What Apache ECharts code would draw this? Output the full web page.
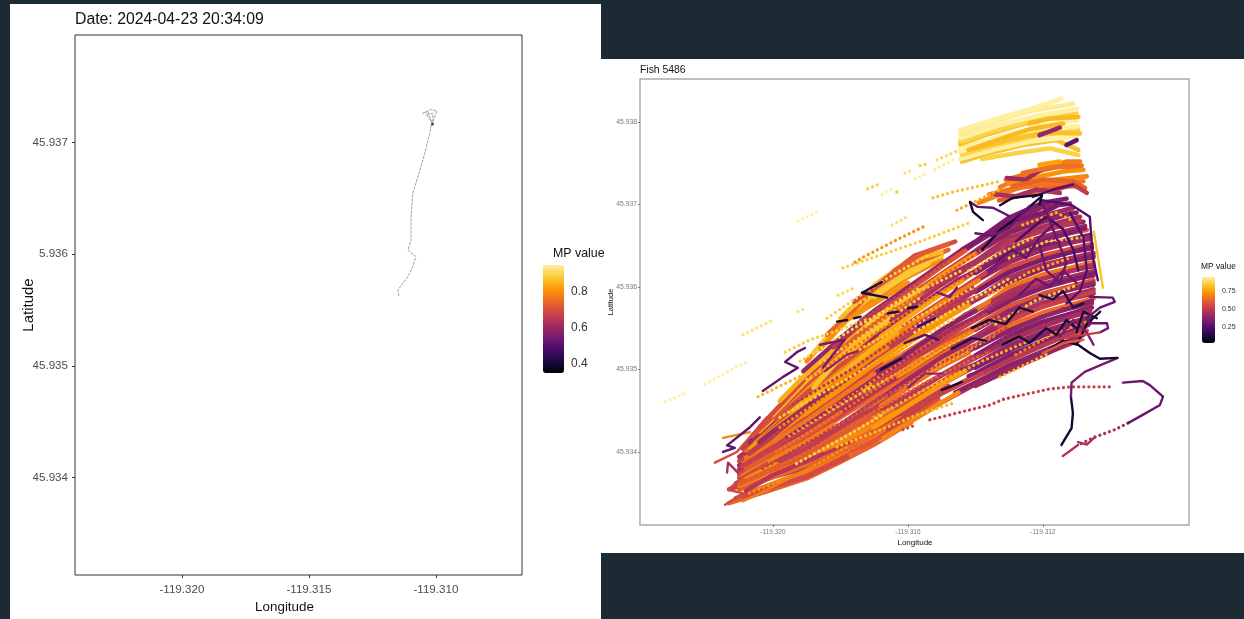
<!DOCTYPE html>
<html><head><meta charset="utf-8">
<style>html,body{margin:0;padding:0;background:#1b2a33}#c{width:1244px;height:619px}</style>
<script src="https://cdn.jsdelivr.net/npm/echarts@6/dist/echarts.min.js"></script>
</head><body><div id="c"></div>
<script>
// Units: x = thousandths of a degree east of -119.320, y = thousandths of a degree north of 45.934
const LON0 = -119.32, LAT0 = 45.934;
const inferno = ['#000004','#1b0c41','#4a0c6b','#781c6d','#a52c60','#cf4446','#ed6925','#fb9b06','#f9cb35','#fff0a0'];

const leftTitle = 'Date: 2024-04-23 20:34:09';
const rightTitle = 'Fish 5486';
const leftLonTicks = [-119.32, -119.315, -119.31];
const leftLonLabels = ['-119.320', '-119.315', '-119.310'];
const leftLatTicks = [45.934, 45.935, 45.936, 45.937];
const leftLatLabels = ['45.934', '45.935', '5.936', '45.937'];
const rightLonTicks = [-119.32, -119.316, -119.312];
const rightLonLabels = ['-119.320', '-119.316', '-119.312'];
const rightLatTicks = [45.934, 45.935, 45.936, 45.937, 45.938];
const rightLatLabels = ['45.934', '45.935', '45.936', '45.937', '45.938'];
const leftLegendTicks = [0.4, 0.6, 0.8];
const leftLegendLabels = ['0.4', '0.6', '0.8'];
const rightLegendTicks = [0.25, 0.5, 0.75];
const rightLegendLabels = ['0.25', '0.50', '0.75'];

const leftTrace = [9.83,3.181, 9.68,3.277, 9.48,3.259, 9.83,3.295, 10.03,3.279, 9.88,3.179, 9.88,3.259, 9.61,3.25, 9.83,3.181, 9.76,3.08, 9.57,2.91, 9.37,2.75, 9.09,2.545, 9.02,2.33, 9.02,2.125, 8.90,2.036, 9.21,1.98, 9.09,1.884, 8.86,1.786, 8.50,1.679, 8.54,1.616];
const leftHead = [9.86, 3.165, 0.37];

// [value, x,y, x,y, ...]
const cloudRight = [
[.46,4,.35,5,.60,6,.82,7,.99,8,1.18,9.1,1.36],
[.38,5.4,.72,6,.84,7,1.05,8,1.22,9.2,1.42],
[.60,4.6,.62,5,.71,6,.93,7,1.11,8,1.32,9.3,1.47],
[.36,5.8,.92,6,.95,7,1.17,8,1.34,9.35,1.54],
[.45,4.2,.62,5,.82,6,1.04,7,1.23,8,1.44,9.4,1.59],
[.40,5.5,.98,6,1.06,7,1.29,8,1.46,9.4,1.64],
[.55,4.8,.88,5,.93,6,1.15,7,1.35,8,1.55,9.4,1.70],
[.36,6,1.17,7,1.41,8,1.58,9.45,1.75],
[.42,4.4,.92,5,1.04,6,1.27,7,1.47,8,1.67,9.45,1.80],
[.64,5.6,1.24,6,1.29,7,1.53,8,1.69,9.5,1.86],
[.38,4.6,1.05,5,1.15,6,1.38,7,1.59,8,1.78,9.5,1.92],
[.45,5.2,1.25,6,1.40,7,1.65,8,1.81,9.5,1.97],
[.34,6.2,1.55,7,1.71,8,1.90,9.5,2.03],
[.58,4.3,1.16,5,1.32,6,1.52,7,1.77,8,1.92,9.5,2.08],
[.40,5.3,1.44,6,1.61,7,1.83,8,2.02,9.5,2.14],
[.44,4.7,1.36,5,1.43,6,1.63,7,1.89,8,2.04,9.5,2.19],
[.36,5.7,1.66,6,1.73,7,1.94,8,2.13,9.5,2.25],
[.66,6.4,1.82,7,2.00,8,2.15,9.5,2.30],
[.38,4.5,1.46,5,1.59,6,1.84,7,2.06,8,2.25,9.5,2.36],
[.45,5.3,1.71,6,1.85,7,2.12,8,2.27,9.5,2.41],
[.36,6,1.96,7,2.18,8,2.36,9.45,2.47],
[.56,4.4,1.62,5,1.76,6,1.96,7,2.24,8,2.38,9.45,2.52],
[.40,5.6,1.97,6,2.07,7,2.30,8,2.48,9.4,2.58],
[.34,6.3,2.17,7,2.36,8,2.50,9.4,2.63],
[.60,4.8,1.87,5,1.92,6,2.19,7,2.42,8,2.59,9.3,2.69],
[.42,5.5,2.09,6,2.19,7,2.48,8,2.61,9.25,2.74],
[.38,5,2.03,6,2.30,7,2.54,8,2.70,9.2,2.79],
[.45,4.4,1.93,5,2.09,6,2.31,7,2.60,8,2.73,9.1,2.85],
[.36,5.2,2.2,6,2.42,7,2.66,8,2.83,9.0,2.90],
[.42,5.8,2.38,7,2.72,8,2.86,8.9,2.96],
[.38,5,2.25,6,2.53,7,2.78,8,2.97,8.8,3.01],
[.34,5.6,2.45,6,2.55,7,2.84,8,3.02,8.7,3.07]
];
const rightFill = [
[.40,6,.80,7,.99,8,1.17,9,1.38],
[.48,6.2,.95,7,1.11,8,1.29,9.2,1.5],
[.36,6,1.02,7,1.23,8,1.41,9.4,1.61],
[.44,6.4,1.22,7,1.35,8,1.52,9.4,1.72],
[.38,6,1.26,7,1.47,8,1.64,9.45,1.83],
[.52,6.6,1.5,7,1.59,8,1.76,9.5,1.94],
[.40,6,1.48,7,1.71,8,1.87,9.5,2.05],
[.36,6.3,1.67,7,1.83,8,1.99,9.5,2.16],
[.46,6,1.71,7,1.94,8,2.10,9.5,2.27],
[.38,6.5,1.95,7,2.06,8,2.22,9.5,2.38],
[.34,6,1.94,7,2.18,8,2.33,9.45,2.49],
[.42,6.7,2.23,7,2.30,8,2.45,9.4,2.6],
[.36,6,2.17,7,2.42,8,2.56,9.25,2.71],
[.48,6.4,2.39,7,2.54,8,2.68,9.1,2.8],
[.38,6,2.40,7,2.66,8,2.79,8.9,2.9],
[.34,6.5,2.65,7,2.78,8,2.9,8.4,2.98]
];
const cloudLeft = [
[.62,-1.3,-.62,-.2,-.48,1,-.32,2,-.12,3,.09,4.1,.36],
[.58,-1.1,-.56,1,-.28,2,-.05,3,.14,4.9,.64],
[.68,-.9,-.52,1,-.23,2,-.02,3,.20,3.9,.44],
[.52,-1.3,-.45,-.3,-.34,1,-.19,2,.04,3,.25,5.2,.8],
[.64,-1,-.46,1,-.15,2,.06,3,.30,4.3,.64],
[.58,-1,-.43,1,-.11,2,.13,3,.35,5.5,.98],
[.70,-1,-.41,1,-.06,2,.15,3,.41,4.7,.86],
[.50,-1.1,-.38,1,-.02,2,.22,3,.46,5.9,1.15],
[.60,-1,-.36,1,.02,2,.25,3,.51,4.5,.92],
[.72,-.8,-.30,1,.06,2,.31,3,.56,5.6,1.24],
[.48,-1,-.31,1,.11,2,.33,3,.61,4.7,1.06],
[.64,-1,-.28,1,.15,2,.42,3,.67,5.2,1.25],
[.54,-1,-.26,1,.19,2,.44,3,.72,6.2,1.55],
[.70,-.6,-.14,1,.23,2,.51,3,.77,4.4,1.16],
[.46,-1,-.21,1,.27,2,.53,3,.82,5.3,1.44],
[.62,-.9,-.16,1,.32,2,.60,3,.88,4.7,1.36],
[.44,-1,-.16,1,.36,2,.62,3,.93,5.7,1.66],
[.66,-.9,-.11,1,.40,2,.70,3,.98,6.4,1.82],
[.54,-1,-.11,1,.44,2,.72,3,1.03,4.5,1.46],
[.72,-.5,.02,1,.49,2,.80,3,1.08,5.3,1.71],
[.46,-1,-.06,1,.53,2,.82,3,1.14,6,1.96],
[.64,-.8,.02,1,.57,2,.90,3,1.19,4.4,1.62],
[.74,-.7,.06,1,.61,2,.92,3,1.24,5.6,1.97],
[.52,-.9,.04,1,.66,2,1.00,3,1.29,6.3,2.17],
[.70,-.6,.14,1,.70,2,1.02,3,1.35,4.8,1.87],
[.42,-.7,.12,1,.74,2,1.09,3,1.40,5.5,2.09],
[.76,-.4,.25,1,.78,2,1.11,3,1.45,5,2.03],
[.58,-.6,.20,1,.82,2,1.19,3,1.50,4.4,1.93],
[.80,0,.45,1,.87,2,1.20,3,1.55,5.2,2.2],
[.55,-.4,.30,1,.91,2,1.28,3,1.61,5.8,2.38],
[.78,.2,.62,1,.95,2,1.30,3,1.66,5,2.25],
[.40,.9,.98,2,1.38,3,1.71,5.6,2.45]
];
const topFill = [
[.70,1,1.1,2,1.55,3,1.85,4,2.12,5,2.33],
[.82,1.2,1.2,2,1.58,3,1.92,4,2.2,5,2.38],
[.62,1.6,1.42,2.4,1.72,3,1.98,4,2.25,5.2,2.45],
[.80,2,1.62,3,2.02,4,2.32,5,2.42],
[.55,2.4,1.82,3.2,2.05,4.2,2.38,5.4,2.55],
[.72,1.4,1.25,2.2,1.6,3,1.8,4,2.05],
[.84,3,1.88,3.8,2.1,4.6,2.28],
[.60,3.6,2.2,4.4,2.4,5.2,2.52]
];
const leftFill = [
[.55,-.9,-.54,0,-.42,1,-.30,2.2,-.06],
[.64,1.2,-.17,2,0,3,.22,3.8,.41],
[.48,-.8,-.47,0,-.28,1.4,-.04,2.3,.13],
[.70,1.5,.03,2,.11,3,.33,3.6,.48],
[.60,-1,-.39,0,-.21,1,-.04,2,.21,3.2,.48],
[.50,.2,-.11,1,.04,2,.3,3,.53,4.2,.85],
[.68,-.9,-.29,0,-.08,1,.13,1.8,.33],
[.45,1.8,.43,3,.74,4,.99],
[.60,-.8,-.2,0,-.02,1,.21,2,.48],
[.76,1.6,.5,2,.58,3,.85,4.2,1.15],
[.52,-.9,-.17,0,.05,1,.3,2.6,.72],
[.36,2.7,.87,3.2,1,3.9,1.16],
[.66,-.8,-.07,0,.12,1,.38,2,.67,3,.95],
[.72,.4,.33,1,.47,2,.76,3,1.06,3.7,1.24],
[.50,-.7,-.02,0,.19,1.2,.6,1.9,.83],
[.70,1.5,.75,2,.86,3,1.16,4.1,1.46],
[.42,-.4,.12,0,.25,1,.55,1.6,.74],
[.78,.5,.5,1,.63,2,.95,3,1.27,3.8,1.5],
[.56,.1,.4,1,.72,2,1.05,2.7,1.27],
[.82,1.2,.78,2,1.14,3,1.47,3.6,1.65],
[.62,1.5,1.06,2,1.23,3,1.58,3.5,1.73],
[.48,1.8,1.27,3,1.68,3.4,1.8]
];
const cloudMid = [
[.70,3.2,.15,4,.35,5,.60,5.5,.72],
[.52,3.4,.28,4,.45,5,.71,6.2,.95],
[.74,3,.30,4,.56,5,.82,5.7,.98],
[.48,3.6,.57,4,.67,5,.93,6.4,1.22],
[.66,3.2,.56,4,.78,5,1.04,5.8,1.2],
[.42,3.4,.70,4,.88,5,1.15,6.6,1.5],
[.72,3.7,.92,4,.99,5,1.26,5.9,1.46],
[.52,3,.82,4,1.10,5,1.37,6.3,1.67],
[.38,3.9,1.17,5,1.48,6,1.71],
[.74,3.3,1.11,4,1.31,5,1.59,5.8,1.78],
[.50,3.5,1.28,4,1.42,5,1.70,6.5,1.95],
[.68,3.8,1.46,5,1.81,6.1,2.08],
[.76,3.2,1.40,4,1.63,5,1.92,5.6,2.07],
[.46,3.5,1.6,4,1.74,5,2.03,6.7,2.47],
[.74,3.7,1.76,5,2.14,6,2.40],
[.58,3.4,1.75,4,1.95,5,2.25,5.7,2.44]
];
const upperBand = [
[.60,6.7,3.05,7.5,3.12,8.3,3.22,9.1,3.22],
[.70,6.1,3.02,7,3.16,7.9,3.28,9.3,3.34],
[.66,6.4,3.12,7.2,3.2,8.1,3.24,9.2,3.28],
[.45,6.6,3.12,7.2,3.10,7.8,3.18,8.5,3.14],
[.68,6.73,3.21,7.32,3.32,8.71,3.52,9.1,3.52],
[.72,7,3.25,7.8,3.33,8.6,3.4,9.2,3.42],
[.66,6.9,3.3,7.8,3.4,8.6,3.47,9.15,3.47],
[.42,6.93,3.32,7.5,3.3,7.93,3.42],
[.62,7.1,3.22,8,3.3,8.9,3.28,9.25,3.2],
[.65,7.4,3.38,8.2,3.45,9,3.46],
[.75,7.9,3.48,8.5,3.52],
[.50,8.2,3.16,8.9,3.24,9.3,3.14]
];
const yellowBlock = [
[.82,5.6,3.52,6.4,3.62,7.4,3.72,8.4,3.78,9.05,3.66],
[.86,6.2,3.55,7.2,3.62,8.2,3.68,9.05,3.6],
[.95,5.55,3.55,6.5,3.66,7.6,3.76,9.0,3.83],
[.87,5.6,3.60,6.6,3.72,7.8,3.83,9.05,3.90],
[.95,5.55,3.64,6.7,3.78,7.9,3.90,9.05,3.95],
[.82,6,3.68,7,3.78,8,3.87,9.1,3.86],
[.95,5.55,3.68,6.8,3.83,8,3.96,9.0,4.02],
[.80,5.8,3.66,6.8,3.80,7.6,3.91,8.6,3.98],
[.82,5.55,3.73,6.3,3.84,7.2,3.95,8.2,4.05],
[.86,5.55,3.76,6.6,3.90,7.5,4.0,9.0,4.10],
[.95,5.55,3.80,6.7,3.96,7.8,4.07,9.0,4.16],
[.93,5.55,3.85,6.73,4.02,7.6,4.13,8.9,4.22],
[.95,5.55,3.90,6.73,4.05,7.6,4.15,8.55,4.28],
[.80,7.6,3.98,8.2,4.04,9.05,4.06],
[.40,7.9,3.84,8.5,3.93],
[.28,8.7,3.72,9.0,3.78]
];
const squiggles = [
[.70,-1.48,.17,-.68,.24],
[.55,-1.72,-.13,-1.07,0,-.18,.42],
[.45,-1.36,-.25,-1.33,-.13,-1.04,-.25],
[.55,-1.42,-.64,-.89,-.5,-1.33,-.46,-.89,-.3,-.18,-.13],
[.68,-.89,-.6,-.18,-.46,1.1,-.19],
[.28,-1.48,0,-1.13,.05,-1.36,.08,-.68,.30,-.39,.42],
[.28,-.3,.74,.3,.91,.74,1.02,.36,1.09,.71,1.21,.95,1.26],
[.33,1.48,1.02,1.78,1.18,2.13,1.36,1.39,1.3],
[.38,1.54,.98,2.2,1.18,2.5,1.22],
[.12,2.64,1.93,3.23,2.06],
[.12,2.64,1.93,3.38,1.87],
[.12,1.9,1.58,2.2,1.6],
[.12,2.4,1.62,2.6,1.64],
[.12,3.4,1.68,3.7,1.7],
[.12,4.0,1.74,4.27,1.76],
[.33,4.86,1.93,5.24,1.88,5.45,1.99],
[.40,4,.78,4.5,.95,5.0,.95],
[.12,5.0,.75,5.6,.85],
[.12,3.2,1.0,3.8,1.13],
[.20,4.3,1.52,4.8,1.62],
[.15,5.3,1.25,5.9,1.38,6.3,1.35],
[.25,3.9,1.32,4.5,1.42,4.9,1.36],
[.22,7.2,2.55,7.7,2.72,8.1,2.85,8.6,2.7,8.9,2.45,9.05,2.2],
[.30,8.0,3.0,8.4,2.6,8.7,2.3,8.5,2.05,8.1,2.2,7.9,2.5],
[.28,6.6,2.3,7.1,2.45,7.5,2.35,7.9,2.6,8.3,2.75],
[.25,8.8,2.9,9.2,2.6,9.3,2.2,9.1,1.95,8.7,1.8],
[.12,5.9,1.5,6.4,1.6,6.9,1.55,7.3,1.75,7.7,1.7],
[.12,6.8,1.3,7.3,1.4,7.6,1.32,8.1,1.5,8.4,1.42,8.7,1.6,9.0,1.5],
[.15,7.9,1.9,8.3,1.85,8.6,1.95,8.9,1.75,9.2,1.8],
[.12,8.2,1.25,8.6,1.35,9.0,1.3,9.3,1.55,9.7,1.7],
[.30,7.3,1.9,7.8,2.1,8.2,2.0,8.6,2.2,9.0,2.05],
[.35,8.5,1.4,8.9,1.6,9.3,1.45,9.5,1.3],
[.12,9.0,1.45,9.2,1.7,9.6,1.62],
[.25,7.7,3.09,8.3,3.18,8.89,3.24],
[.25,7.97,3.05,8.86,2.99,9.39,2.85,9.48,2.36,9.63,2.08],
[.28,5.84,3.03,6.07,2.97,6.52,2.96,7.0,2.86],
[.10,5.84,3.03,5.93,2.91,6.22,2.81],
[.10,6.73,2.99,7.11,3.08,7.97,3.12,7.9,3.0],
[.10,6.2,2.45,6.73,2.69,7.23,2.84,7.97,3.1],
[.30,6.0,2.65,6.5,2.62,7,2.72,7.6,2.98],
[.60,8.0,1.2,8.6,1.32,9.2,1.36],
[.82,9.51,2.67,9.78,1.99],
[.10,8.55,.085,8.85,.29,8.89,.47,8.83,.67],
[.33,8.83,.67,8.85,.84,9.24,.97,9.69,1.05,10.22,1.14],
[.10,9.04,1.30,9.39,1.2,9.69,1.13,10.19,1.14],
[.30,9.69,1.45,9.93,1.5,9.9,1.56,9.39,1.56,9.3,1.62,9.69,1.75,10.13,1.82,10.07,1.87,9.39,1.88],
[.50,8.6,1.38,9.69,1.45],
[.30,10.37,.84,10.96,.86,11.17,.81,11.56,.67,11.47,.57,10.96,.45,10.52,.35],
[.45,9.04,.085,8.59,-.05],
[.45,9.04,.12,9.3,.09,9.54,.18]
];
const dottedRows = [
[.95,-3.2,.61,-2.55,.72],
[.95,-2.01,.82,-1.27,.99,-.74,1.10],
[.90,-.89,1.42,-.59,1.48,0,1.6],
[.90,.74,1.7,1.0,1.75],
[.85,.36,1.21,1.1,1.36,1.99,1.48,2.79,1.62],
[.80,-.44,.67,.71,.9,1.1,.96],
[.88,1.93,1.9,2.43,1.99],
[.85,2.07,2.23,4.36,2.55,5.84,2.78],
[.72,2.43,2.3,2.67,2.36,3.76,2.59,4.56,2.75],
[.90,3.53,2.75,3.97,2.85],
[.82,4.74,3.08,5.33,3.15,6.73,3.28],
[.78,5.45,2.93,6.73,3.18],
[.95,.74,2.8,1.0,2.85,1.33,2.91],
[.85,2.81,3.19,3.11,3.24],
[.95,3.23,3.12,3.56,3.19],
[.82,3.67,3.15,3.76,3.18],
[.90,3.91,3.38,4.15,3.42],
[.95,4.21,3.31,4.56,3.38],
[.85,4.36,3.47,4.65,3.5],
[.93,4.8,3.42,5.33,3.54],
[.88,4.86,3.54,5.54,3.66],
[.80,1.9,.06,3.38,.3,4.27,.45,5.33,.59],
[.60,1.19,-.13,2.58,.08,3.26,.18],
[.55,3.85,.27,4.27,.33],
[.52,4.65,.39,6.43,.57,6.84,.64,8.15,.76,8.83,.79,10.04,.79],
[.45,10.52,.35,10.13,.27,9.54,.18,9.04,.085],
[.80,6.73,.91,8.2,1.2],
[.82,.5,.2,2.2,.62,4,1.02,5.6,1.38],
[.84,.2,.42,2,.84,3.8,1.26,5.4,1.62],
[.82,1,.88,2.6,1.25,4.4,1.66,6,2.0],
[.85,.8,1.1,2.4,1.5,4.2,1.92,5.6,2.2],
[.80,1.8,.3,3.5,.72,5.2,1.1,6.6,1.42],
[.78,3,.42,4.6,.78,6.2,1.1,7.6,1.35],
[.85,4.2,1.45,5.6,1.78,7,2.1],
[.82,5.8,2.2,6.8,2.42,7.8,2.62],
[.62,-.7,-.35,1,.0,2.7,.42,4.5,.84,6.4,1.22],
[.50,-.3,-.2,1.4,.2,3.2,.65,5,1.08,7,1.52],
[.66,.1,0,1.7,.4,3.4,.86,5.2,1.32,6.8,1.66],
[.42,.4,.18,2,.6,3.7,1.06,5.4,1.5,7.2,1.9],
[.72,.2,.3,2.2,.84,4,1.34,5.7,1.76],
[.48,.6,.58,2.4,1.02,4.1,1.5,6,2.02],
[.66,1.2,.92,2.8,1.38,4.6,1.84,6.2,2.24],
[.84,1.4,1.08,3,1.5,4.4,1.88],
[.60,2.2,1.3,3.6,1.72,5,2.12,6.4,2.5],
[.82,2.5,1.45,3.5,1.74,4.6,2.02],
[.50,2.6,1.6,3.9,1.94,5.2,2.32],
[.86,2.8,1.55,3.6,1.8,4.4,2.0],
[.40,6.2,1.2,7.4,1.52,8.6,1.74],
[.84,6.6,1.55,7.8,1.84,9,2.02],
[.76,6.4,1.9,7.6,2.18,8.8,2.35],
[.82,7,2.35,8.1,2.55,9.2,2.6],
[.70,7.2,1.18,8.4,1.45,9.3,1.58],
[.78,7.4,2.75,8.4,2.9,8.9,2.8],
[.86,.7,-.14,2.2,.2,3.2,.44],
[.72,-.7,-.5,.8,-.26,2.2,.06],
[.85,1.6,1.62,2.6,1.9,3.6,2.16,4.6,2.38],
[.84,2.2,1.72,3.2,1.96,4.2,2.22,5,2.36]
];

const toCoords = flat => {
  const out = [];
  for (let i = 0; i < flat.length; i += 2) out.push([LON0 + flat[i] / 1000, LAT0 + flat[i + 1] / 1000]);
  return out;
};
const toLines = list => list.map(t => ({ coords: toCoords(t.slice(1)), value: t[0] }));
const font = 'Liberation Sans';
const lookup = (ticks, labels) => v => {
  const i = ticks.findIndex(t => Math.abs(t - v) < 1e-6);
  return i < 0 ? '' : labels[i];
};
const axis = (pos, gridIndex, min, max, ticks, labels, fs, tl, margin, col, extra) => Object.assign({
  type: 'value', gridIndex, position: pos, min, max, scale: true,
  splitLine: { show: false }, axisLine: { show: false },
  axisTick: { show: true, length: tl, customValues: ticks, lineStyle: { color: '#333', width: tl > 2 ? 1 : 0.6 } },
  axisLabel: { customValues: ticks, formatter: lookup(ticks, labels), fontFamily: font, fontSize: fs, color: col, margin }
}, extra || {});
const legendY = (pos, gi, min, max, ticks, labels, fs, show, len) => ({
  type: 'value', gridIndex: gi, position: pos, min, max,
  splitLine: { show: false }, axisLine: { show: false },
  axisTick: { show: true, inside: true, length: len, customValues: ticks, lineStyle: { color: '#fff', width: 1 } },
  axisLabel: { show, customValues: ticks, formatter: lookup(ticks, labels), fontFamily: font, fontSize: fs, color: '#333', margin: 7 }
});
const hiddenX = gi => ({ type: 'value', gridIndex: gi, show: false, min: 0, max: 1 });
const t = (text, left, top, size, color, align) => ({ text, left, top, padding: 0, textAlign: align || 'left', textStyle: { fontFamily: font, fontSize: size, fontWeight: 'normal', color: color || '#111' } });
const rect = (x, y, width, height) => ({ type: 'rect', silent: true, z: -10, shape: { x, y, width, height }, style: { fill: '#fff' } });
const yName = (size, gap) => ({ name: 'Latitude', nameLocation: 'middle', nameGap: gap, nameMoveOverlap: false, nameTextStyle: { fontFamily: font, fontSize: size, color: '#111' } });

const dataSolid = toLines(topFill).concat(toLines(cloudRight), toLines(rightFill), toLines(cloudLeft), toLines(leftFill), toLines(cloudMid), toLines(upperBand), toLines(yellowBlock));
const dataSquiggle = toLines(squiggles);
const dataDots = toLines(dottedRows);

const option = {
  animation: false,
  backgroundColor: '#1b2a33',
  graphic: [rect(10, 4, 591, 615), rect(601, 59, 643, 494)],
  title: [
    t(leftTitle, 75, 12, 15.8),
    t('Longitude', 284.5, 601, 13.4, '#111', 'center'),
    t('MP value', 553, 248, 12.4),
    t(rightTitle, 640, 65, 10.4),
    t('Longitude', 915, 539, 8, '#111', 'center'),
    t('MP value', 1201, 263, 8.4)
  ],
  grid: [
    { left: 75, top: 35, width: 447, height: 540, show: true, borderColor: '#333', borderWidth: 1, backgroundColor: 'transparent' },
    { left: 640, top: 79, width: 549, height: 446, show: true, borderColor: '#aaa', borderWidth: 1.4, backgroundColor: 'transparent' },
    { left: 543, top: 265, width: 21, height: 108 },
    { left: 1202, top: 277, width: 13, height: 66 }
  ],
  xAxis: [
    axis('bottom', 0, -119.32421, -119.30661, leftLonTicks, leftLonLabels, 11.6, 3, 9, '#4d4d4d'),
    axis('bottom', 1, -119.32394, -119.30767, rightLonTicks, rightLonLabels, 6.5, 2, 4, '#777'),
    hiddenX(2), hiddenX(3)
  ],
  yAxis: [
    axis('left', 0, 45.93313, 45.93796, leftLatTicks, leftLatLabels, 11.6, 3, 7, '#4d4d4d', yName(15, 39)),
    axis('left', 1, 45.933115, 45.93852, rightLatTicks, rightLatLabels, 6.8, 2, 3, '#777', yName(7.5, 25)),
    legendY('left', 2, 0.35, 0.95, leftLegendTicks, leftLegendLabels, 12, false, 4),
    legendY('right', 2, 0.35, 0.95, leftLegendTicks, leftLegendLabels, 12, true, 4),
    legendY('left', 3, 0.03, 0.94, rightLegendTicks, rightLegendLabels, 7, false, 2.5),
    legendY('right', 3, 0.03, 0.94, rightLegendTicks, rightLegendLabels, 7, true, 2.5)
  ],
  visualMap: [
    { type: 'continuous', min: 0.35, max: 0.95, seriesIndex: [1], left: 543, top: 265, padding: 0, itemWidth: 21, itemHeight: 108, calculable: false, hoverLink: false, showLabel: false, inRange: { color: inferno } },
    { type: 'continuous', min: 0.03, max: 0.94, seriesIndex: [2, 3, 4], left: 1202, top: 277, padding: 0, itemWidth: 13, itemHeight: 66, calculable: false, hoverLink: false, showLabel: false, inRange: { color: inferno } }
  ],
  series: [
    { type: 'line', xAxisIndex: 0, yAxisIndex: 0, showSymbol: false, silent: true, data: toCoords(leftTrace), lineStyle: { color: '#a0a0a0', width: 1, type: [3, 1] }, itemStyle: { color: '#a0a0a0' } },
    { type: 'scatter', xAxisIndex: 0, yAxisIndex: 0, silent: true, symbolSize: 3, data: [[LON0 + leftHead[0] / 1000, LAT0 + leftHead[1] / 1000, leftHead[2]]], encode: { x: 0, y: 1 } },
    { type: 'lines', coordinateSystem: 'cartesian2d', xAxisIndex: 1, yAxisIndex: 1, polyline: true, silent: true, data: dataSolid, lineStyle: { width: 4.6, opacity: 1, cap: 'round', join: 'round' } },
    { type: 'lines', coordinateSystem: 'cartesian2d', xAxisIndex: 1, yAxisIndex: 1, polyline: true, silent: true, data: dataDots, lineStyle: { width: 3.2, opacity: 1, cap: 'round', type: [0.1, 5] } },
    { type: 'lines', coordinateSystem: 'cartesian2d', xAxisIndex: 1, yAxisIndex: 1, polyline: true, silent: true, data: dataSquiggle, lineStyle: { width: 2.4, opacity: 1, cap: 'round', join: 'round' } }
  ]
};
echarts.init(document.getElementById('c'), null, { renderer: 'canvas' }).setOption(option);
</script></body></html>
